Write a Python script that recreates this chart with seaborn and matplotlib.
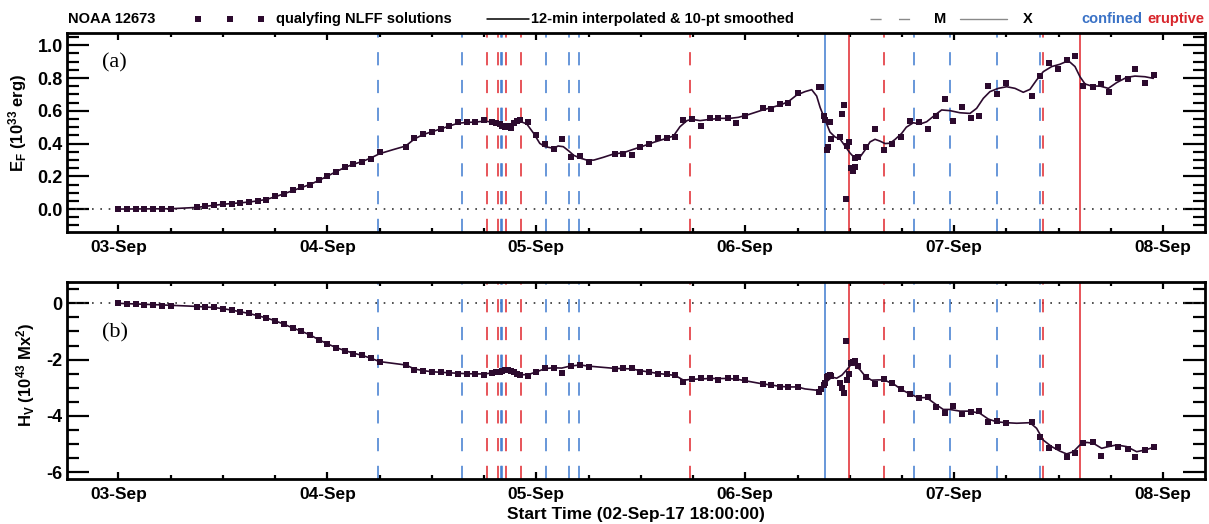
import matplotlib
matplotlib.use("Agg")
import matplotlib.pyplot as plt
from matplotlib.lines import Line2D
from matplotlib.ticker import FixedLocator, MultipleLocator, FormatStrFormatter
import seaborn as sns

# ---------------------------------------------------------------------------
# NOAA AR 12673 -- free magnetic energy and relative helicity of the
# qualifying NLFF solutions. Time in hours since 02-Sep-2017 18:00 UT.
# ---------------------------------------------------------------------------
hours = [6, 7, 8, 9, 10, 11, 12,
         15, 16, 17, 18, 19, 20, 21, 22, 23, 24, 25, 26, 27, 28, 29, 30, 31, 32, 33, 34, 35, 36,
         39, 40, 41, 42, 43, 44, 45, 46, 47, 48,
         48.9, 49.4, 49.8, 50.1, 50.4, 50.7, 51.1, 51.4, 51.8, 52.1, 53.0,
         54.0, 55.0, 56.0, 56.9, 58.0, 59.0, 60.0,
         63.0, 64.0, 65.0, 65.9, 67.0, 68.0, 69.0, 69.9, 70.9, 71.9, 72.9, 74.0, 74.9, 76.0, 76.9, 78.0,
         80.0, 81.0, 82.0, 82.9, 84.0,
         86.5, 86.75, 87.0, 87.2, 87.35, 87.45, 87.7, 87.9, 88.9, 89.1, 89.35, 89.55, 89.65, 89.9,
         90.15, 90.35, 90.55, 90.6, 90.9,
         91.9, 92.9, 93.9, 94.9, 95.9, 96.9, 97.95, 98.95, 99.9, 100.9, 101.9, 102.9, 103.9, 104.9,
         105.9, 106.9, 107.9,
         110.9, 111.9, 112.9, 113.9, 114.9, 115.9, 116.8, 117.9, 118.85, 119.8, 120.8, 121.9, 122.8,
         123.9, 124.9]

# free energy E_F (1e33 erg)
energy = [0.000, 0.000, 0.000, 0.000, 0.001, 0.001, 0.002,
          0.010, 0.018, 0.023, 0.030, 0.033, 0.037, 0.043, 0.049, 0.055, 0.077, 0.090, 0.114, 0.132,
          0.147, 0.175, 0.202, 0.228, 0.257, 0.277, 0.285, 0.305, 0.346,
          0.381, 0.432, 0.458, 0.472, 0.488, 0.507, 0.529, 0.529, 0.530, 0.542,
          0.533, 0.527, 0.517, 0.509, 0.503, 0.507, 0.493, 0.525, 0.538, 0.544, 0.530,
          0.452, 0.395, 0.365, 0.430, 0.319, 0.323, 0.288,
          0.339, 0.339, 0.329, 0.381, 0.397, 0.432, 0.432, 0.442, 0.544, 0.548, 0.509, 0.554, 0.554,
          0.554, 0.527, 0.567,
          0.615, 0.611, 0.639, 0.645, 0.706,
          0.743, 0.743, 0.570, 0.544, 0.360, 0.381, 0.533, 0.426, 0.438, 0.578, 0.635, 0.059, 0.385,
          0.407, 0.249, 0.232, 0.255, 0.310, 0.316,
          0.377, 0.489, 0.360, 0.397, 0.438, 0.540, 0.534, 0.489, 0.570, 0.670, 0.540, 0.625, 0.554,
          0.570, 0.753, 0.703, 0.772,
          0.690, 0.815, 0.890, 0.853, 0.910, 0.937, 0.753, 0.743, 0.764, 0.713, 0.798, 0.792, 0.853,
          0.772, 0.819]

# relative helicity H_V (1e43 Mx^2)
helicity = [0.00, -0.01, -0.02, -0.05, -0.07, -0.08, -0.08,
            -0.12, -0.13, -0.14, -0.19, -0.25, -0.30, -0.36, -0.44, -0.51, -0.63, -0.73, -0.88, -0.98,
            -1.11, -1.30, -1.46, -1.57, -1.69, -1.79, -1.83, -1.93, -2.10,
            -2.19, -2.37, -2.41, -2.43, -2.43, -2.47, -2.51, -2.51, -2.51, -2.55,
            -2.49, -2.45, -2.43, -2.39, -2.38, -2.37, -2.40, -2.45, -2.51, -2.55, -2.57,
            -2.45, -2.30, -2.30, -2.48, -2.22, -2.19, -2.25,
            -2.33, -2.31, -2.31, -2.45, -2.45, -2.51, -2.51, -2.55, -2.78, -2.70, -2.67, -2.67, -2.72,
            -2.67, -2.64, -2.74,
            -2.88, -2.90, -2.96, -2.98, -2.96,
            -3.14, -3.06, -2.90, -2.82, -2.61, -2.57, -2.55, -2.58, -2.82, -3.02, -3.18, -1.34, -2.72,
            -2.50, -2.13, -2.08, -2.04, -2.10, -2.23,
            -2.61, -2.87, -2.69, -2.82, -3.06, -3.23, -3.38, -3.32, -3.70, -3.89, -3.64, -3.94, -3.85,
            -3.83, -4.20, -4.17, -4.24,
            -4.23, -4.74, -5.15, -5.12, -5.45, -5.31, -4.97, -4.94, -5.41, -5.01, -5.09, -5.19, -5.45,
            -5.21, -5.12]

# 12-min interpolated & 10-pt smoothed curves
smooth_hours_e = [6, 12, 15, 16, 17, 18, 19, 20, 21, 22, 23, 24, 25, 26, 27, 28, 29, 30, 31, 32,
                  33, 34, 35, 36, 37.5, 39.0, 40.0, 41.0, 42.0, 43.0, 44.0, 45.0, 46.0, 47.0, 47.9,
                  49.1, 50.0, 50.6, 51.2, 51.75, 52.3, 52.9, 53.7, 54.4, 55.0, 56.0, 56.5, 57.1, 57.7,
                  58.3, 59.0, 59.8, 60.6, 61.7, 62.85, 64.0, 65.15, 66.3, 67.45, 68.6, 69.75, 70.5,
                  71.3, 71.85, 72.8, 74.0, 75.1, 76.25, 77.2, 78.2, 80.0, 80.95, 82.0, 82.95, 83.9,
                  84.86, 85.63, 86.2, 86.6, 86.97, 87.35, 87.73, 88.31, 88.88, 89.45, 90.03, 90.6,
                  91.18, 91.75, 92.33, 92.9, 93.47, 94.05, 94.62, 95.2, 95.96, 96.5, 97.3, 98.07,
                  98.83, 99.79, 100.55, 101.51, 102.66, 103.81, 104.57, 105.34, 106.1, 107.06, 108.02,
                  108.98, 109.93, 110.7, 111.46, 112.23, 113.19, 114.14, 115.1, 115.87, 116.44,
                  117.02, 117.78, 118.74, 119.7, 120.65, 121.8, 122.76, 123.91, 124.86]
smooth_energy = [0.000, 0.002, 0.010, 0.017, 0.023, 0.029, 0.034, 0.038, 0.043, 0.050, 0.059, 0.075,
                 0.093, 0.112, 0.131, 0.150, 0.174, 0.201, 0.228, 0.254, 0.274, 0.290, 0.312, 0.338,
                 0.362, 0.385, 0.428, 0.455, 0.472, 0.489, 0.507, 0.524, 0.529, 0.531, 0.536, 0.532,
                 0.517, 0.509, 0.513, 0.525, 0.532, 0.520, 0.462, 0.401, 0.381, 0.371, 0.385, 0.381,
                 0.356, 0.328, 0.312, 0.299, 0.299, 0.316, 0.336, 0.344, 0.365, 0.385, 0.407, 0.426,
                 0.446, 0.503, 0.540, 0.548, 0.540, 0.548, 0.554, 0.554, 0.560, 0.574, 0.605, 0.619,
                 0.635, 0.656, 0.696, 0.717, 0.729, 0.690, 0.620, 0.570, 0.520, 0.470, 0.440, 0.428,
                 0.385, 0.342, 0.310, 0.318, 0.360, 0.410, 0.426, 0.415, 0.400, 0.402, 0.425, 0.462,
                 0.500, 0.527, 0.519, 0.533, 0.574, 0.605, 0.601, 0.588, 0.584, 0.615, 0.676, 0.717,
                 0.737, 0.747, 0.737, 0.713, 0.731, 0.788, 0.839, 0.870, 0.884, 0.906, 0.870, 0.808,
                 0.764, 0.751, 0.751, 0.737, 0.772, 0.804, 0.812, 0.808, 0.798]

smooth_hours_h = [6, 12, 15, 16, 17, 18, 19, 20, 21, 22, 23, 24, 25, 26, 27, 28, 29, 30, 31, 32,
                  33, 34, 35, 36, 39.0, 40.0, 41.0, 42.0, 44.1, 46.0, 47.9, 49.45, 50.4, 51.0, 51.56,
                  52.14, 53.1, 54.05, 55.0, 55.96, 56.92, 57.88, 59.03, 59.98, 62.97, 64.96, 65.92,
                  67.95, 69.94, 70.9, 71.85, 73.96, 75.95, 76.94, 77.98, 79.96, 80.95, 81.99, 82.94,
                  83.98, 84.86, 86.0, 86.5, 86.97, 87.5, 87.95, 88.5, 89.1, 89.65, 90.22, 90.6, 91.18,
                  91.75, 92.5, 93.3, 93.9, 94.45, 95.2, 95.96, 96.92, 97.87, 98.83, 99.98, 100.74,
                  101.51, 102.66, 103.81, 104.96, 105.91, 106.87, 108.02, 109.17, 110.7, 111.46,
                  112.23, 113.19, 114.14, 114.91, 115.68, 116.44, 117.21, 117.97, 118.93, 119.7,
                  120.65, 121.8, 122.95, 123.91, 124.86]
smooth_helicity = [0.00, -0.07, -0.11, -0.13, -0.15, -0.19, -0.24, -0.30, -0.36, -0.44, -0.52, -0.62,
                   -0.74, -0.87, -0.99, -1.12, -1.29, -1.44, -1.57, -1.68, -1.77, -1.85, -1.95, -2.07,
                   -2.19, -2.33, -2.39, -2.43, -2.47, -2.50, -2.51, -2.46, -2.40, -2.40, -2.48, -2.54,
                   -2.53, -2.43, -2.32, -2.29, -2.30, -2.23, -2.19, -2.23, -2.31, -2.33, -2.39, -2.49,
                   -2.56, -2.73, -2.70, -2.67, -2.67, -2.69, -2.75, -2.86, -2.90, -2.95, -2.97, -2.97,
                   -3.04, -3.08, -3.09, -2.92, -2.74, -2.62, -2.66, -2.55, -2.36, -2.15, -2.20, -2.36,
                   -2.58, -2.73, -2.72, -2.72, -2.79, -2.90, -3.07, -3.22, -3.35, -3.35, -3.61, -3.77,
                   -3.77, -3.83, -3.83, -3.91, -4.11, -4.21, -4.24, -4.26, -4.24, -4.44, -4.86, -5.09,
                   -5.25, -5.35, -5.27, -5.03, -4.94, -4.97, -5.15, -5.09, -5.03, -5.09, -5.27, -5.21,
                   -5.12]

# GOES flare start times (hours since start)
m_confined = [35.8, 45.5, 49.9, 50.1, 55.1, 57.8, 58.9, 97.4, 101.5, 106.9, 111.8]
m_eruptive = [48.3, 49.6, 50.5, 52.2, 71.7, 93.9, 112.2]
x_confined = [87.1]
x_eruptive = [89.9, 116.4]

day_hours = [6, 30, 54, 78, 102, 126]
day_labels = ["03-Sep", "04-Sep", "05-Sep", "06-Sep", "07-Sep", "08-Sep"]

# ---------------------------------------------------------------------------
sns.set_theme(style="ticks")
plt.rcParams.update({
    "font.family": ["Liberation Sans", "DejaVu Sans"],
    "font.weight": "bold",
    "axes.labelweight": "bold",
    "axes.unicode_minus": False,
    "mathtext.fontset": "custom",
    "mathtext.rm": "Liberation Sans:bold",
    "mathtext.default": "rm",
    "lines.scale_dashes": False,
    "axes.edgecolor": "black",
    "xtick.color": "black",
    "ytick.color": "black",
    "text.color": "black",
    "axes.labelcolor": "black",
})

BLUE = "#3f7ad0"
RED = "#e0262c"
DARK = "#2c0a2e"
GREY = "#8a8a8a"
DASH = (0, (9.5, 10.5))

W, H = 1209, 524
fig = plt.figure(figsize=(W / 100, H / 100), dpi=100)


def fx(px):
    return px / W


def fy(py):
    return 1 - py / H


ax_e = fig.add_axes([fx(67), fy(232), fx(1205) - fx(67), fy(33) - fy(232)])
ax_h = fig.add_axes([fx(67), fy(479), fx(1205) - fx(67), fy(282) - fy(479)])


def draw_panel(ax, values, sm_x, sm_y):
    ax.axhline(0, color="#333333", lw=1.2, ls=(0, (1.2, 4.8)), zorder=1)
    for t in m_confined:
        ax.axvline(t, color=BLUE, lw=1.1, ls=DASH, zorder=2)
    for t in m_eruptive:
        ax.axvline(t, color=RED, lw=1.1, ls=DASH, zorder=2)
    for t in x_confined:
        ax.axvline(t, color=BLUE, lw=1.1, ls="-", zorder=2)
    for t in x_eruptive:
        ax.axvline(t, color=RED, lw=1.1, ls="-", zorder=2)
    sns.lineplot(x=sm_x, y=sm_y, ax=ax, color=DARK, linewidth=1.2, sort=False,
                 estimator=None, zorder=3)
    sns.scatterplot(x=hours, y=values, ax=ax, marker="s", s=20, color=DARK,
                    linewidth=0, zorder=4)

    ax.set_xlim(0.1, 130.8)
    ax.xaxis.set_major_locator(FixedLocator(day_hours))
    ax.xaxis.set_minor_locator(MultipleLocator(6))
    ax.set_xticklabels(day_labels)
    for side in ax.spines.values():
        side.set_linewidth(2.0)
        side.set_color("black")
    ax.tick_params(axis="x", which="major", direction="in", length=5, width=1.6,
                   top=True, bottom=True, labelsize=12.5, pad=6)
    ax.tick_params(axis="x", which="minor", direction="in", length=3, width=1.6,
                   top=True, bottom=True)
    ax.tick_params(axis="y", which="major", direction="in", length=16, width=1.6,
                   left=True, right=True, labelsize=13, pad=3)
    ax.tick_params(axis="y", which="minor", direction="in", length=8.5, width=1.6,
                   left=True, right=True)
    ax.set_xlabel("")


draw_panel(ax_e, energy, smooth_hours_e, smooth_energy)
ax_e.set_ylim(-0.14, 1.075)
ax_e.yaxis.set_major_locator(MultipleLocator(0.2))
ax_e.yaxis.set_minor_locator(MultipleLocator(0.05))
ax_e.yaxis.set_major_formatter(FormatStrFormatter("%.1f"))
ax_e.set_ylabel(r"E$_F$ (10$^{33}$ erg)", fontsize=12)
ax_e.yaxis.set_label_coords(-0.0335, 0.55)
ax_e.text((114 - 67) / 1138, (232 - 63) / 199, "(a)", transform=ax_e.transAxes,
          family="Liberation Serif", weight="normal", fontsize=16, ha="center", va="center")

draw_panel(ax_h, helicity, smooth_hours_h, smooth_helicity)
ax_h.set_ylim(-6.24, 0.757)
ax_h.yaxis.set_major_locator(MultipleLocator(2))
ax_h.yaxis.set_minor_locator(MultipleLocator(0.5))
ax_h.yaxis.set_major_formatter(FormatStrFormatter("%d"))
ax_h.set_ylabel(r"H$_V$ (10$^{43}$ Mx$^2$)", fontsize=12)
ax_h.yaxis.set_label_coords(-0.0265, 0.53)
ax_h.text((115 - 67) / 1138, (479 - 333) / 197, "(b)", transform=ax_h.transAxes,
          family="Liberation Serif", weight="normal", fontsize=16, ha="center", va="center")
ax_h.set_xlabel("Start Time (02-Sep-17 18:00:00)", fontsize=12.5)
ax_h.xaxis.set_label_coords(0.5, (479 - 515) / 197)
ax_h.xaxis.label.set_va("center")

# ---------------------------------------------------------------------------
# legend row across the top
ly = fy(19)
lkw = dict(fontsize=10.5, weight="bold", va="center", ha="left")
fig.text(fx(68), ly, "NOAA 12673", **lkw)
for px in (198, 230, 261):
    fig.add_artist(Line2D([fx(px)], [ly], marker="s", markersize=4.2, color=DARK,
                          markeredgewidth=0, transform=fig.transFigure))
fig.text(fx(276), ly, "qualyfing NLFF solutions", **lkw)
fig.add_artist(Line2D([fx(487), fx(529)], [ly, ly], color="black", lw=1.1,
                      transform=fig.transFigure))
fig.text(fx(531), ly, "12-min interpolated & 10-pt smoothed", **lkw)
fig.add_artist(Line2D([fx(870), fx(911)], [ly, ly], color=GREY, lw=1.0,
                      ls=(0, (8.0, 12.5)), transform=fig.transFigure))
fig.text(fx(934), ly, "M", **lkw)
fig.add_artist(Line2D([fx(960), fx(1007)], [ly, ly], color=GREY, lw=1.0,
                      transform=fig.transFigure))
fig.text(fx(1023), ly, "X", **lkw)
fig.text(fx(1081), ly, "confined", color="#3a72c6", **lkw)
fig.text(fx(1147), ly, "eruptive", color="#d8262c", **lkw)

fig.savefig("out.png", dpi=100)
